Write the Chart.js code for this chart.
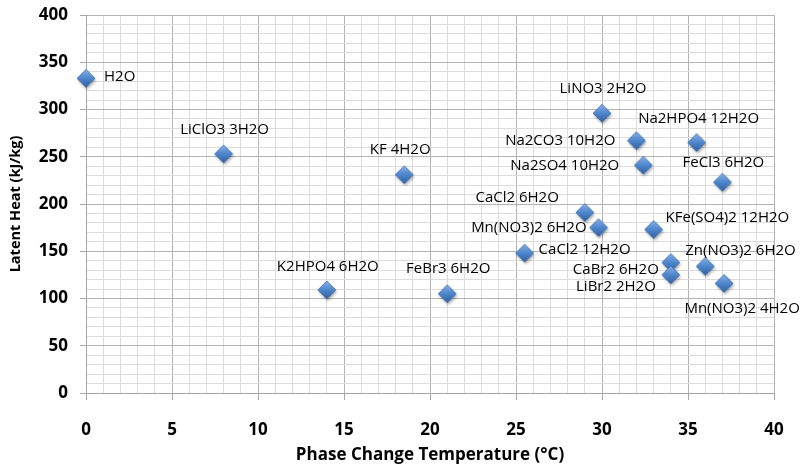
<!DOCTYPE html>
<html>
<head>
<meta charset="utf-8">
<script src="https://cdn.jsdelivr.net/npm/chart.js@4"></script>
<style>
  html, body { margin: 0; padding: 0; background: #fff; }
  #wrap { width: 804px; height: 468px; }
</style>
</head>
<body>
<div id="wrap"><canvas id="pcmChart" width="804" height="468"></canvas></div>
<script>
const compounds = [
  "H2O", "LiClO3 3H2O", "KF 4H2O", "K2HPO4 6H2O", "FeBr3 6H2O",
  "CaCl2 12H2O", "CaCl2 6H2O", "Mn(NO3)2 6H2O", "LiNO3 2H2O",
  "Na2CO3 10H2O", "Na2SO4 10H2O", "KFe(SO4)2 12H2O", "CaBr2 6H2O",
  "LiBr2 2H2O", "Na2HPO4 12H2O", "Zn(NO3)2 6H2O", "FeCl3 6H2O",
  "Mn(NO3)2 4H2O",
];
const meltTemp = [0, 8, 18.5, 14, 21, 25.5, 29, 29.8, 30, 32, 32.4, 33, 34, 34, 35.5, 36, 37, 37.1];
const latentHeat = [333, 253, 231, 109, 105, 148, 191, 175, 296, 267, 241, 173, 138, 125, 265, 134, 223, 116];

const xTicks = [0, 5, 10, 15, 20, 25, 30, 35, 40];
const yTicks = [0, 50, 100, 150, 200, 250, 300, 350, 400];

// where each name sits next to its marker: [dx, dy, textAlign]
const labelPlace = [
  [18, -2, "left"], [1, -24, "center"], [-4, -25, "center"], [1, -23, "center"],
  [1, -25, "center"], [14, -3, "left"], [-26, -15, "right"], [-12, 0, "right"],
  [1, -25, "center"], [-21, 0, "right"], [-24, 0, "right"], [12, -12, "left"],
  [-12, 7, "right"], [-15, 12, "right"], [2, -24, "center"], [-20, -16, "left"],
  [1, -20, "center"], [18, 25, "center"],
];

const points = meltTemp.map((t, i) => ({ x: t, y: latentHeat[i] }));

// glossy blue diamond used as the marker image
function makeDiamond() {
  const c = document.createElement("canvas");
  c.width = 26;
  c.height = 26;
  const g = c.getContext("2d");
  const cx = 13, cy = 13, r = 9;
  g.save();
  g.shadowColor = "rgba(0,0,0,0.35)";
  g.shadowBlur = 3;
  g.shadowOffsetX = 1;
  g.shadowOffsetY = 2;
  const grad = g.createLinearGradient(0, cy - r, 0, cy + r);
  grad.addColorStop(0, "#86b0e6");
  grad.addColorStop(0.5, "#4f86cc");
  grad.addColorStop(1, "#2f5f9e");
  g.beginPath();
  g.moveTo(cx, cy - r);
  g.lineTo(cx + r, cy);
  g.lineTo(cx, cy + r);
  g.lineTo(cx - r, cy);
  g.closePath();
  g.fillStyle = grad;
  g.fill();
  g.restore();
  g.strokeStyle = "#3d6eaf";
  g.lineWidth = 0.8;
  g.stroke();
  return c;
}

const nameLabels = {
  id: "nameLabels",
  afterDatasetsDraw(chart) {
    const ctx = chart.ctx;
    const meta = chart.getDatasetMeta(0);
    ctx.save();
    ctx.font = "15px 'Open Sans'";
    ctx.fillStyle = "#000";
    ctx.textBaseline = "middle";
    meta.data.forEach((pt, i) => {
      const [dx, dy, align] = labelPlace[i];
      ctx.textAlign = align;
      ctx.fillText(compounds[i], pt.x + dx, pt.y + dy);
    });
    ctx.restore();
  },
};

const isMajor = (v, step) => Math.abs(v % step) < 1e-9;

new Chart(document.getElementById("pcmChart"), {
  type: "scatter",
  data: {
    datasets: [
      {
        label: "PCM",
        data: points,
        pointStyle: makeDiamond(),
        pointRadius: 9,
        pointHoverRadius: 9,
        clip: false,
      },
    ],
  },
  options: {
    responsive: false,
    animation: false,
    events: [],
    layout: { padding: { left: 0, right: 30, top: 15, bottom: 0 } },
    plugins: {
      legend: { display: false },
      tooltip: { enabled: false },
    },
    scales: {
      x: {
        type: "linear",
        min: 0,
        max: 40,
        afterFit(scale) {
          scale.height = 75;
          scale.paddingLeft = 0;
          scale.paddingRight = 0;
        },
        ticks: {
          stepSize: 1,
          autoSkip: false,
          maxRotation: 0,
          padding: 20,
          color: "#000",
          font: { family: "'Open Sans'", size: 17, weight: "bold" },
          callback: (v) => (xTicks.includes(v) ? String(v) : ""),
        },
        grid: {
          color: (c) => (isMajor(c.tick.value, 5) ? "#b3b3b3" : "#dcdcdc"),
          tickColor: (c) => (isMajor(c.tick.value, 5) ? "#a6a6a6" : "rgba(0,0,0,0)"),
          tickLength: 7,
        },
        border: { color: "#a6a6a6" },
        title: {
          display: true,
          text: "Phase Change Temperature (°C)",
          color: "#000",
          font: { family: "'Open Sans'", size: 17, weight: "bold" },
          padding: { top: 0, bottom: 3 },
        },
      },
      y: {
        type: "linear",
        min: 0,
        max: 400,
        afterFit(scale) {
          scale.width = 86;
          scale.paddingTop = 0;
          scale.paddingBottom = 0;
        },
        ticks: {
          stepSize: 10,
          autoSkip: false,
          padding: 12,
          color: "#000",
          font: { family: "'Open Sans'", size: 17, weight: "bold" },
          callback: (v) => (yTicks.includes(v) ? String(v) : ""),
        },
        grid: {
          color: (c) => (isMajor(c.tick.value, 50) ? "#b3b3b3" : "#dcdcdc"),
          tickColor: (c) => (isMajor(c.tick.value, 50) ? "#a6a6a6" : "rgba(0,0,0,0)"),
          tickLength: 6,
        },
        border: { color: "#a6a6a6" },
        title: {
          display: true,
          text: "Latent Heat (kJ/kg)",
          color: "#000",
          font: { family: "'Open Sans'", size: 14.5, weight: "bold" },
          padding: { top: 7, bottom: 0 },
        },
      },
    },
  },
  plugins: [nameLabels],
});
</script>
</body>
</html>
